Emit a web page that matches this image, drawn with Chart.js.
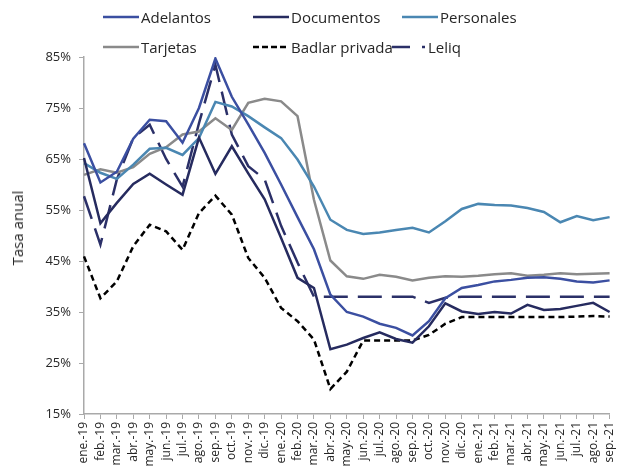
<!DOCTYPE html>
<html>
<head>
<meta charset="utf-8">
<script src="https://cdn.jsdelivr.net/npm/chart.js@4.4.1/dist/chart.umd.min.js"></script>
<style>
    body { margin: 0; background: #fff; }
    #wrap { position: relative; width: 627px; height: 473px; font-family: "Open Sans", sans-serif; color: #262626; }
    #rateChart { position: absolute; left: 0; top: 0; }
    .legend-item { position: absolute; display: flex; align-items: center; font-size: 15px; white-space: nowrap; height: 20px; }
    .legend-item svg { margin-right: 2px; }
    #yTitle { position: absolute; left: 17px; top: 228px; font-size: 15px; transform: translate(-50%, -50%) rotate(-90deg); white-space: nowrap; }
</style>
</head>
<body>
<div id="wrap">
    <canvas id="rateChart" width="627" height="473"></canvas>
    <div id="yTitle">Tasa anual</div>
</div>
<script>
// Month labels
const months = [
    'ene.-19', 'feb.-19', 'mar.-19', 'abr.-19', 'may.-19', 'jun.-19', 'jul.-19', 'ago.-19', 'sep.-19', 'oct.-19', 'nov.-19', 'dic.-19',
    'ene.-20', 'feb.-20', 'mar.-20', 'abr.-20', 'may.-20', 'jun.-20', 'jul.-20', 'ago.-20', 'sep.-20', 'oct.-20', 'nov.-20', 'dic.-20',
    'ene.-21', 'feb.-21', 'mar.-21', 'abr.-21', 'may.-21', 'jun.-21', 'jul.-21', 'ago.-21', 'sep.-21'
];

// Series (% anual)
const adelantos = [68.1, 60.4, 62.5, 69.0, 72.7, 72.4, 68.2, 75.0, 84.7, 77.2, 71.8, 66.2, 60.0, 53.6, 47.3,
    38.4, 35.0, 34.1, 32.7, 31.9, 30.4, 33.2, 37.7, 39.7, 40.3, 41.0, 41.3, 41.7, 41.8, 41.5, 41.0, 40.8, 41.2];
const documentos = [65.2, 52.4, 56.4, 60.1, 62.1, 60.0, 58.0, 69.2, 62.1, 67.5, 62.2, 57.1, 49.5, 41.7, 39.7,
    27.7, 28.6, 29.9, 31.0, 29.7, 29.0, 32.2, 36.7, 35.1, 34.6, 35.0, 34.7, 36.4, 35.4, 35.6, 36.2, 36.8, 35.0];
const personales = [64.2, 62.3, 61.1, 63.9, 67.0, 67.2, 65.8, 69.1, 76.2, 75.3, 73.4, 71.2, 69.1, 64.9, 59.6,
    53.1, 51.1, 50.3, 50.6, 51.1, 51.5, 50.6, 52.8, 55.2, 56.2, 56.0, 55.9, 55.4, 54.6, 52.6, 53.8, 53.0, 53.6];
const tarjetas = [61.9, 63.0, 62.3, 63.4, 66.0, 67.3, 69.8, 70.4, 73.0, 70.7, 76.0, 76.8, 76.3, 73.4, 57.0,
    45.1, 42.0, 41.5, 42.3, 41.9, 41.2, 41.7, 42.0, 41.9, 42.1, 42.4, 42.6, 42.1, 42.3, 42.6, 42.4, 42.5, 42.6];
const badlar = [45.9, 37.7, 41.0, 47.9, 52.1, 50.8, 47.2, 54.4, 57.8, 54.1, 45.6, 41.7, 35.8, 33.2, 29.6,
    19.9, 23.3, 29.4, 29.4, 29.4, 29.4, 30.5, 32.7, 34.0, 34.0, 34.0, 34.0, 34.0, 34.0, 34.0, 34.1, 34.2, 34.1];
const leliq = [57.7, 48.2, 61.0, 69.1, 71.7, 65.0, 59.6, 72.0, 83.5, 69.8, 63.6, 61.0, 51.9, 44.7, 38.0,
    38.0, 38.0, 38.0, 38.0, 38.0, 38.0, 36.8, 37.8, 38.0, 38.0, 38.0, 38.0, 38.0, 38.0, 38.0, 38.0, 38.0, 38.0];

const yTicks = [15, 25, 35, 45, 55, 65, 75, 85];

const series = [
    { label: 'Adelantos', data: adelantos, color: '#3b4fa1', dash: [], legend: { x: 103, y: 7 } },
    { label: 'Documentos', data: documentos, color: '#262b5f', dash: [], legend: { x: 253, y: 7 } },
    { label: 'Personales', data: personales, color: '#4a87b2', dash: [], legend: { x: 402, y: 7 } },
    { label: 'Tarjetas', data: tarjetas, color: '#8a8a8a', dash: [], legend: { x: 103, y: 37 } },
    { label: 'Badlar privada', data: badlar, color: '#000000', dash: [6, 4], legend: { x: 253, y: 37 } },
    { label: 'Leliq', data: leliq, color: '#2b3068', dash: [24, 10], legend: { x: 392, y: 37 } }
];

// Build the legend (two rows, like the original)
const wrap = document.getElementById('wrap');
series.forEach(s => {
    const item = document.createElement('div');
    item.className = 'legend-item';
    item.style.left = s.legend.x + 'px';
    item.style.top = s.legend.y + 'px';
    let sample;
    if (s.label === 'Leliq') {
        sample = `<svg width="34" height="6"><line x1="0" y1="3" x2="18" y2="3" stroke="${s.color}" stroke-width="2.5"/>` +
            `<line x1="30" y1="3" x2="33" y2="3" stroke="${s.color}" stroke-width="2.5"/></svg>`;
    } else if (s.dash.length) {
        sample = `<svg width="36" height="6"><line x1="0" y1="3" x2="36" y2="3" stroke="${s.color}" stroke-width="2.5" stroke-dasharray="6,3"/></svg>`;
    } else {
        sample = `<svg width="36" height="6"><line x1="0" y1="3" x2="36" y2="3" stroke="${s.color}" stroke-width="2.5"/></svg>`;
    }
    item.innerHTML = sample + `<span>${s.label}</span>`;
    wrap.appendChild(item);
});

const axisColor = '#a9a9a9';

new Chart(document.getElementById('rateChart'), {
    type: 'line',
    data: {
        labels: months,
        datasets: series.map(s => ({
            label: s.label,
            data: s.data,
            borderColor: s.color,
            backgroundColor: s.color,
            borderWidth: 2.5,
            borderDash: s.dash,
            pointRadius: 0,
            tension: 0,
            fill: false
        }))
    },
    options: {
        responsive: false,
        devicePixelRatio: 1,
        animation: false,
        layout: { padding: { top: 57, right: 6, left: 0, bottom: 0 } },
        plugins: {
            legend: { display: false },
            tooltip: { enabled: false }
        },
        scales: {
            x: {
                offset: false,
                afterFit: scale => { scale.height = 59; },
                border: { color: axisColor, width: 1.5 },
                grid: { drawOnChartArea: false, drawTicks: true, tickLength: 5, color: axisColor, lineWidth: 1 },
                ticks: {
                    autoSkip: false,
                    minRotation: 90,
                    maxRotation: 90,
                    padding: 3,
                    color: '#262626',
                    font: { family: 'Open Sans', size: 12 }
                }
            },
            y: {
                min: 15,
                max: 85,
                afterFit: scale => { scale.width = 84; },
                afterBuildTicks: scale => { scale.ticks = yTicks.map(v => ({ value: v })); },
                border: { color: axisColor, width: 1.5 },
                grid: { drawOnChartArea: false, drawTicks: true, tickLength: 5, color: axisColor, lineWidth: 1 },
                ticks: {
                    padding: 8,
                    color: '#262626',
                    font: { family: 'Open Sans', size: 13 },
                    callback: v => v + '%'
                }
            }
        }
    }
});
</script>
</body>
</html>
